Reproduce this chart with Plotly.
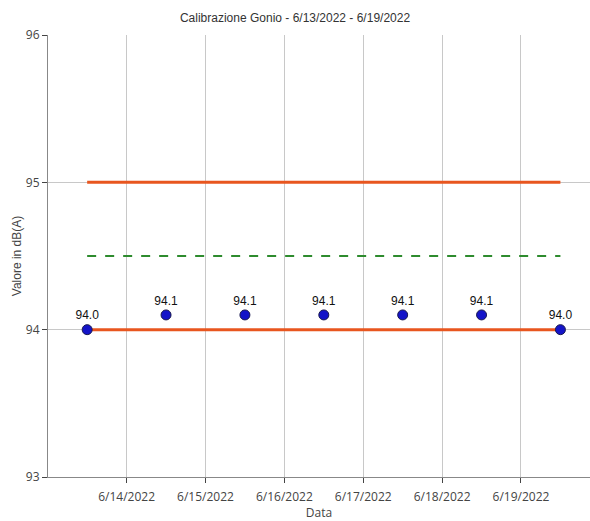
import plotly.graph_objects as go

dates = ["2022-06-13 12:00", "2022-06-14 12:00", "2022-06-15 12:00", "2022-06-16 12:00",
         "2022-06-17 12:00", "2022-06-18 12:00", "2022-06-19 12:00"]
values = [94.0, 94.1, 94.1, 94.1, 94.1, 94.1, 94.0]
lower_limit = [94.0] * len(dates)
upper_limit = [95.0] * len(dates)
target = [94.5] * len(dates)
x_range = ["2022-06-13 00:05", "2022-06-19 21:00"]
y_range = [93, 96]
title = "Calibrazione Gonio - 6/13/2022 - 6/19/2022"

line_color = "#E8561F"

fig = go.Figure()
fig.add_trace(go.Scatter(x=dates, y=upper_limit, mode="lines",
                         line=dict(color=line_color, width=3), hoverinfo="skip"))
fig.add_trace(go.Scatter(x=dates, y=lower_limit, mode="lines",
                         line=dict(color=line_color, width=3), hoverinfo="skip"))
fig.add_trace(go.Scatter(x=dates, y=target, mode="lines",
                         line=dict(color="#2E8B2E", width=2, dash="dash"), hoverinfo="skip"))
fig.add_trace(go.Scatter(x=dates, y=values, mode="markers+text",
                         marker=dict(color="#1414C8", size=10, line=dict(color="#1A1A50", width=1)),
                         text=[f"{v:.1f}" for v in values], textposition="top center",
                         textfont=dict(family="Liberation Sans, Arial", size=12, color="#111")))

fig.update_layout(
    width=590, height=521,
    margin=dict(l=48, r=0, t=35, b=44),
    paper_bgcolor="white", plot_bgcolor="white",
    showlegend=False,
    title=dict(text=title, x=0.5, xanchor="center", y=0.966, yanchor="middle",
               font=dict(family="Liberation Sans, Arial", size=12, color="#333")),
    font=dict(family="Open Sans, Noto Sans", size=12, color="#444"),
)
fig.update_xaxes(range=x_range, type="date", tick0="2022-06-14", dtick=86400000,
                 tickformat="%-m/%-d/%Y", showgrid=True, gridcolor="#c8c8c8", gridwidth=1,
                 showline=True, linecolor="#888", ticks="outside", ticklen=5, tickcolor="#444",
                 ticklabelstandoff=4, automargin=False,
                 title=dict(text="Data", standoff=9, font=dict(size=12, color="#444")),
                 zeroline=False)
fig.update_yaxes(range=y_range, dtick=1, showgrid=True, gridcolor="#c8c8c8", gridwidth=1,
                 showline=True, linecolor="#888", ticks="outside", ticklen=5, tickcolor="#444",
                 automargin=False,
                 title=dict(text="Valore in dB(A)", standoff=1,
                            font=dict(family="Liberation Sans, Arial", size=12, color="#444")),
                 zeroline=False)

fig.write_html("out.html", config={"displayModeBar": False},
               post_script="document.body.style.margin='0px';")
